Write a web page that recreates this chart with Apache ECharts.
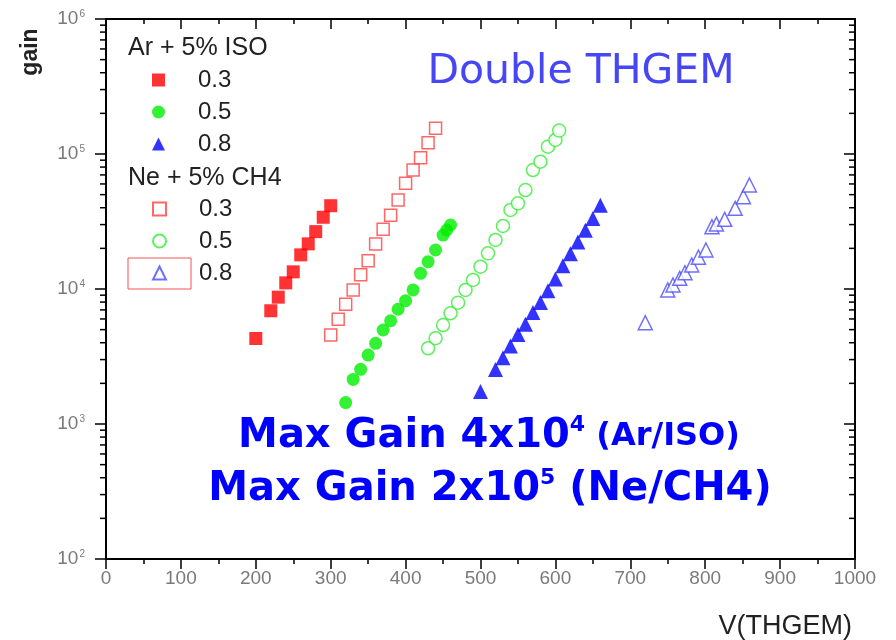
<!DOCTYPE html>
<html>
<head>
<meta charset="utf-8">
<script src="https://cdn.jsdelivr.net/npm/echarts@6/dist/echarts.min.js"></script>
<style>
  html, body { margin: 0; padding: 0; background: #fff; }
  #chart { width: 896px; height: 640px; }
</style>
</head>
<body>
<div id="chart"></div>
<script>
// Gain vs THGEM voltage, double THGEM, two gas mixtures and three hole sizes.
const arV03 = [200, 220, 230, 240, 250, 260, 270, 280, 290, 300];
const arG03 = [4300, 6900, 8700, 11100, 13400, 17900, 21600, 26600, 34000, 41400];

const arV05 = [320, 330, 340, 350, 360, 370, 380, 390, 400, 410, 420, 430, 440, 450, 455, 460];
const arG05 = [1440, 2140, 2540, 3240, 3960, 4970, 5820, 7080, 8190, 9840, 13070, 15930, 19450, 25100, 27350, 29800];

const arV08 = [500, 520, 530, 540, 550, 560, 570, 580, 590, 600, 610, 620, 630, 640, 650, 660];
const arG08 = [1740, 2530, 3090, 3780, 4610, 5480, 6690, 7940, 9710, 11850, 14890, 18220, 22250, 27240, 33280, 41800];

const neV03 = [300, 310, 320, 330, 340, 350, 360, 370, 380, 390, 400, 410, 420, 430, 440];
const neG03 = [4560, 5970, 7710, 9840, 12760, 16200, 21550, 27660, 35140, 45600, 60630, 76100, 93900, 121300, 155000];

const neV05 = [430, 440, 450, 460, 470, 480, 490, 500, 510, 520, 530, 540, 550, 560, 570, 580, 590, 600, 605];
const neG05 = [3640, 4320, 5410, 6610, 7920, 9840, 11670, 14630, 18370, 23070, 29300, 38500, 43100, 54100, 76100, 87700, 113300, 127000, 149000];

const neV08 = [720, 750, 757, 766, 773, 782, 791, 801, 809, 815, 826, 840, 851, 859];
const neG08 = [5620, 9840, 10700, 12000, 13200, 15060, 17180, 19450, 28900, 30260, 32800, 39600, 48300, 58900];

// Minor tick values of the log gain axis
const yMinorTicks = [
  200, 300, 400, 500, 600, 700, 800, 900,
  2000, 3000, 4000, 5000, 6000, 7000, 8000, 9000,
  20000, 30000, 40000, 50000, 60000, 70000, 80000, 90000,
  200000, 300000, 400000, 500000, 600000, 700000, 800000, 900000
];

const xMin = 0, xMax = 1000, xStep = 100;
const yMin = 100, yMax = 1000000;

const pairs = (xs, ys) => xs.map((x, i) => [x, ys[i]]);

const chart = echarts.init(document.getElementById('chart'), null, { renderer: 'canvas' });

function scatter(name, xs, ys, symbol, size, color, filled) {
  return {
    name: name,
    type: 'scatter',
    data: pairs(xs, ys),
    symbol: symbol,
    symbolSize: size,
    itemStyle: filled
      ? { color: color, borderWidth: 0 }
      : { color: '#ffffff', borderColor: color, borderWidth: 1.5 },
    emphasis: { disabled: true },
    z: filled ? 3 : 2
  };
}

const axisLineStyle = { color: '#000', width: 2 };
const legendText = { fontSize: 24, lineHeight: 24, color: '#222', fontFamily: 'Liberation Sans', padding: [0, 0, 0, 28] };
const blueRich = (size) => ({ fontSize: size, fontWeight: 'bold', fill: '#0000ff', fontFamily: 'DejaVu Sans' });

const option = {
  backgroundColor: '#ffffff',
  animation: false,
  grid: { left: 106, right: 41, top: 19, bottom: 81 },
  xAxis: [
    {
      type: 'value', min: xMin, max: xMax, interval: xStep, position: 'bottom',
      axisLine: { onZero: false, lineStyle: axisLineStyle },
      axisTick: { inside: false, length: 10, lineStyle: { color: '#000', width: 1.5 } },
      minorTick: { show: true, splitNumber: 2, length: 5, lineStyle: { color: '#000', width: 1.5 } },
      axisLabel: { margin: 10, fontSize: 19, color: '#7a7a7a', fontFamily: 'Liberation Sans', formatter: v => String(v) },
      splitLine: { show: false },
      name: 'V(THGEM)', nameLocation: 'end', nameGap: -3,
      nameTextStyle: { fontSize: 27, color: '#222', fontFamily: 'Liberation Sans', align: 'right', verticalAlign: 'top', padding: [54, 0, 0, 0] }
    },
    {
      type: 'value', min: xMin, max: xMax, interval: xStep, position: 'top',
      axisLine: { onZero: false, lineStyle: axisLineStyle },
      axisTick: { inside: true, length: 10, lineStyle: { color: '#000', width: 1.5 } },
      minorTick: { show: true, splitNumber: 2, length: 5, lineStyle: { color: '#000', width: 1.5 } },
      axisLabel: { show: false },
      splitLine: { show: false }
    }
  ],
  yAxis: [
    {
      type: 'log', logBase: 10, min: yMin, max: yMax, position: 'left',
      axisLine: { onZero: false, lineStyle: axisLineStyle },
      axisTick: { inside: false, length: 11, lineStyle: { color: '#000', width: 1.5 } },
      axisLabel: {
        margin: 21, color: '#7a7a7a', fontFamily: 'Liberation Sans',
        formatter: v => '{b|10}{s|' + Math.round(Math.log10(v)) + '}',
        rich: {
          b: { fontSize: 19, color: '#7a7a7a', fontFamily: 'Liberation Sans' },
          s: { fontSize: 10, color: '#7a7a7a', fontFamily: 'Liberation Sans', verticalAlign: 'top', padding: [0, 0, 10, 1] }
        }
      },
      splitLine: { show: false }
    },
    {
      type: 'log', logBase: 10, min: yMin, max: yMax, position: 'right',
      axisLine: { onZero: false, lineStyle: axisLineStyle },
      axisTick: { inside: true, length: 11, lineStyle: { color: '#000', width: 1.5 } },
      axisLabel: { show: false },
      splitLine: { show: false }
    }
  ],
  legend: [
    {
      data: ['Ar 0.3', 'Ar 0.5', 'Ar 0.8'],
      orient: 'vertical', left: 152, top: 68, padding: 0,
      itemWidth: 13, itemHeight: 13, itemGap: 8,
      selectedMode: false,
      formatter: n => n.split(' ')[1],
      textStyle: legendText
    },
    {
      data: ['Ne 0.3', 'Ne 0.5', 'Ne 0.8'],
      orient: 'vertical', left: 152, top: 197, padding: 0,
      itemWidth: 13, itemHeight: 13, itemGap: 8,
      selectedMode: false,
      formatter: n => n.split(' ')[1],
      textStyle: legendText
    }
  ],
  graphic: [
    { type: 'text', left: 128, top: 36, style: { text: 'Ar + 5% ISO', fontSize: 25, fill: '#222', fontFamily: 'Liberation Sans' } },
    { type: 'text', left: 128, top: 166, style: { text: 'Ne + 5% CH4', fontSize: 25, fill: '#222', fontFamily: 'Liberation Sans' } },
    { type: 'rect', shape: { x: 128, y: 258, width: 63, height: 31 }, style: { fill: 'none', stroke: '#f05555', lineWidth: 1 } },
    {
      type: 'text', x: 31, y: 52, rotation: Math.PI / 2,
      style: { text: 'gain', fontSize: 23, fontWeight: 'bold', fill: '#222', fontFamily: 'Liberation Sans', align: 'center', verticalAlign: 'middle' }
    },
    {
      type: 'text', x: 581, y: 72,
      style: { text: 'Double THGEM', fontSize: 41, fill: '#4646f5', fontFamily: 'DejaVu Sans', align: 'center', verticalAlign: 'middle' }
    },
    {
      type: 'text', x: 489, y: 437,
      style: {
        text: '{m|Max Gain 4x10}{s|4}{p| (Ar/ISO)}',
        align: 'center', verticalAlign: 'middle',
        rich: {
          m: blueRich(40),
          s: Object.assign(blueRich(22), { verticalAlign: 'top', padding: [0, 0, 24, 0] }),
          p: blueRich(32)
        }
      }
    },
    {
      type: 'text', x: 490, y: 490,
      style: {
        text: '{m|Max Gain 2x10}{s|5}{m| (Ne/CH4)}',
        align: 'center', verticalAlign: 'middle',
        rich: {
          m: blueRich(40),
          s: Object.assign(blueRich(22), { verticalAlign: 'top', padding: [0, 0, 24, 0] })
        }
      }
    }
  ],
  series: [
    scatter('Ar 0.3', arV03, arG03, 'rect', 13, '#ff0000', true),
    scatter('Ar 0.5', arV05, arG05, 'circle', 13, '#00ee00', true),
    scatter('Ar 0.8', arV08, arG08, 'triangle', 15, '#0000ff', true),
    scatter('Ne 0.3', neV03, neG03, 'rect', 12, '#ff4040', false),
    scatter('Ne 0.5', neV05, neG05, 'circle', 13, '#33ee33', false),
    scatter('Ne 0.8', neV08, neG08, 'triangle', 14, '#4b4bff', false),
    {
      name: 'minor ticks',
      type: 'custom',
      silent: true,
      clip: false,
      data: yMinorTicks.map(v => [xMin, v]),
      encode: { x: 0, y: 1 },
      renderItem: function (params, api) {
        const v = api.value(1);
        const pl = api.coord([xMin, v]);
        const pr = api.coord([xMax, v]);
        return {
          type: 'group',
          children: [
            { type: 'line', shape: { x1: pl[0] - 6, y1: pl[1], x2: pl[0], y2: pl[1] }, style: { stroke: '#000', lineWidth: 1.5 } },
            { type: 'line', shape: { x1: pr[0] - 6, y1: pr[1], x2: pr[0], y2: pr[1] }, style: { stroke: '#000', lineWidth: 1.5 } }
          ]
        };
      }
    }
  ]
};

chart.setOption(option);
</script>
</body>
</html>
